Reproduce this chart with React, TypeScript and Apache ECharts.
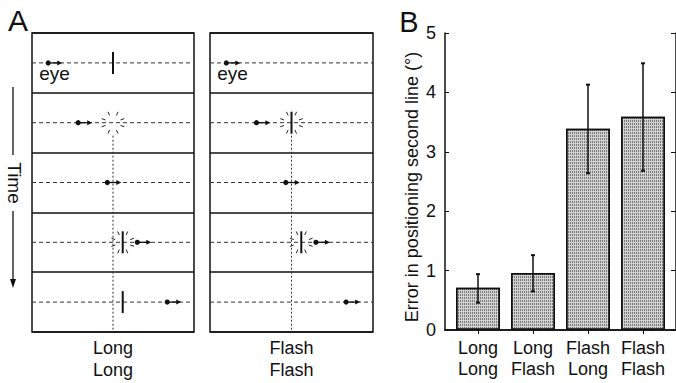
import React, { useEffect, useRef } from "react";
import * as echarts from "echarts";

// ---------- Panel B data ----------
const barCategories = ["Long\nLong", "Long\nFlash", "Flash\nLong", "Flash\nFlash"];
const barPositions = [1, 2, 3, 4];
const barMeans = [0.71, 0.96, 3.39, 3.59];
const errLow = [0.46, 0.65, 2.64, 2.68];
const errHigh = [0.94, 1.26, 4.13, 4.49];
const yAxisName = "Error in positioning second line (°)";

// ---------- Panel A data (positions in % of box width, rows top to bottom) ----------
const rows = [0, 1, 2, 3, 4];
const eyeX = [10, 28.5, 46.5, 65, 83.5];
const flashedX = 50;
const longLongStimX = [50, 50, -1, 56, 56];
const longLongLine = [1, 0, 0, 1, 1];
const longLongFlash = [0, 1, 0, 1, 0];
const flashFlashStimX = [-1, 50, -1, 56, -1];
const flashFlashLine = [0, 1, 0, 1, 0];
const flashFlashFlash = [0, 1, 0, 1, 0];
const boxLabels = ["Long\nLong", "Flash\nFlash"];

const FONT = "'Liberation Sans', Arial, Helvetica, sans-serif";
const INK = "#111";

const rayAngles = [20, 65, 115, 160, 200, 245, 295, 340];

function makeDiagramRender() {
  return (params: any, api: any) => {
    const i = api.value(0);
    const ex = api.value(1);
    const sx = api.value(2);
    const lineOn = api.value(3);
    const flashOn = api.value(4);
    const yMid = i + 0.5;
    const left = api.coord([0, yMid]);
    const right = api.coord([100, yMid]);
    const cy = left[1];
    const children: any[] = [];
    children.push({
      type: "line",
      shape: { x1: left[0], y1: cy, x2: right[0], y2: cy },
      style: { stroke: "#333", lineWidth: 1, lineDash: [4, 3] },
    });
    if (i === 1) {
      const top = api.coord([flashedX, yMid]);
      const bot = api.coord([flashedX, 5]);
      children.push({
        type: "line",
        shape: { x1: top[0], y1: top[1] + 13, x2: bot[0], y2: bot[1] },
        style: { stroke: "#333", lineWidth: 1, lineDash: [2, 2] },
      });
    }
    if (sx >= 0) {
      const s = api.coord([sx, yMid]);
      if (flashOn) {
        rayAngles.forEach((a) => {
          const r = (a * Math.PI) / 180;
          const r1 = 8, r2 = 12;
          children.push({
            type: "line",
            shape: {
              x1: s[0] + r1 * Math.cos(r),
              y1: s[1] - r1 * Math.sin(r),
              x2: s[0] + r2 * Math.cos(r),
              y2: s[1] - r2 * Math.sin(r),
            },
            style: { stroke: "#222", lineWidth: 1 },
          });
        });
      }
      if (lineOn) {
        children.push({
          type: "line",
          shape: { x1: s[0], y1: s[1] - 11, x2: s[0], y2: s[1] + 11 },
          style: { stroke: INK, lineWidth: 2 },
        });
      }
    }
    const e = api.coord([ex, yMid]);
    children.push({
      type: "line",
      shape: { x1: e[0], y1: e[1], x2: e[0] + 11, y2: e[1] },
      style: { stroke: INK, lineWidth: 1.3 },
    });
    children.push({
      type: "polygon",
      shape: { points: [[e[0] + 14, e[1]], [e[0] + 9, e[1] - 2.5], [e[0] + 9, e[1] + 2.5]] },
      style: { fill: INK },
    });
    children.push({
      type: "circle",
      shape: { cx: e[0], cy: e[1], r: 2.6 },
      style: { fill: INK },
    });
    if (i === 0) {
      children.push({
        type: "text",
        x: e[0] - 9,
        y: e[1] + 11,
        style: {
          text: "eye",
          font: `19px ${FONT}`,
          fill: INK,
          textAlign: "left",
          textVerticalAlign: "middle",
        },
      });
    }
    return { type: "group", children };
  };
}

function diagramData(stimX: number[], line: number[], flash: number[]) {
  return rows.map((r) => [r, eyeX[r], stimX[r], line[r], flash[r]]);
}

export default function App() {
  const ref = useRef<HTMLDivElement>(null);
  useEffect(() => {
    if (!ref.current) return;
    const chart = echarts.init(ref.current, undefined, { renderer: "svg" });

    const diagramXAxis = (gi: number) => ({
      type: "value", gridIndex: gi, min: 0, max: 100, show: false,
    });
    const diagramYAxis = (gi: number) => ({
      type: "value", gridIndex: gi, min: 0, max: 5, interval: 1, inverse: true,
      axisLine: { show: false }, axisTick: { show: false }, axisLabel: { show: false },
      splitLine: { show: true, lineStyle: { color: INK, width: 1.5 } },
    });

    const option: any = {
      animation: false,
      backgroundColor: "#fff",
      grid: [
        { left: 32, top: 33, width: 162, height: 299, show: true, borderColor: INK, borderWidth: 1.5 },
        { left: 210, top: 33, width: 163, height: 299, show: true, borderColor: INK, borderWidth: 1.5 },
        { left: 445, top: 33, right: -2, bottom: 53 },
      ],
      xAxis: [
        diagramXAxis(0),
        diagramXAxis(1),
        {
          type: "value", gridIndex: 2, min: 0.4, max: 4.6, position: "bottom",
          axisLine: { show: true, lineStyle: { color: INK, width: 1.5 } },
          axisTick: { show: false },
          splitLine: { show: false },
          axisLabel: {
            customValues: barPositions,
            formatter: (v: number) => barCategories[Math.round(v) - 1] || "",
            fontSize: 18, lineHeight: 21, margin: 7, color: INK, fontFamily: FONT,
          },
        },
        {
          type: "value", gridIndex: 2, min: 0.4, max: 4.6, position: "top",
          axisLine: { show: true, lineStyle: { color: INK, width: 1.5 } },
          axisTick: { show: true, inside: true, length: 4, customValues: barPositions, lineStyle: { color: INK } },
          axisLabel: { show: false },
          splitLine: { show: false },
        },
      ],
      yAxis: [
        diagramYAxis(0),
        diagramYAxis(1),
        {
          type: "value", gridIndex: 2, min: 0, max: 5, interval: 1,
          axisLine: { show: true, lineStyle: { color: INK, width: 1.5 } },
          axisTick: { show: true, inside: true, length: 4, lineStyle: { color: INK } },
          axisLabel: { fontSize: 18, margin: 9, color: INK, fontFamily: FONT },
          splitLine: { show: false },
        },
        {
          type: "value", gridIndex: 2, min: 0, max: 5, interval: 1, position: "right",
          axisLine: { show: true, lineStyle: { color: INK, width: 1.5 } },
          axisTick: { show: true, inside: true, length: 5, lineStyle: { color: INK } },
          axisLabel: { show: false },
          splitLine: { show: false },
        },
      ],
      series: [
        {
          type: "custom", xAxisIndex: 0, yAxisIndex: 0, silent: true,
          renderItem: makeDiagramRender(),
          data: diagramData(longLongStimX, longLongLine, longLongFlash),
        },
        {
          type: "custom", xAxisIndex: 1, yAxisIndex: 1, silent: true,
          renderItem: makeDiagramRender(),
          data: diagramData(flashFlashStimX, flashFlashLine, flashFlashFlash),
        },
        {
          type: "bar", xAxisIndex: 2, yAxisIndex: 2, barWidth: 44,
          data: barPositions.map((x, i) => [x, barMeans[i]]),
          itemStyle: {
            color: "#d2d2d2", borderColor: INK, borderWidth: 1.5,
            decal: {
              symbol: "rect", symbolSize: 1, dashArrayX: [1, 1], dashArrayY: [2, 1],
              color: "rgba(0,0,0,0.42)", rotation: 0,
            },
          },
        },
        {
          type: "custom", xAxisIndex: 2, yAxisIndex: 2, silent: true, z: 5,
          data: barPositions.map((x, i) => [x, errLow[i], errHigh[i]]),
          renderItem: (params: any, api: any) => {
            const lo = api.coord([api.value(0), api.value(1)]);
            const hi = api.coord([api.value(0), api.value(2)]);
            const st = { stroke: INK, lineWidth: 1.5 };
            return {
              type: "group",
              children: [
                { type: "line", shape: { x1: lo[0], y1: lo[1], x2: hi[0], y2: hi[1] }, style: st },
                { type: "line", shape: { x1: lo[0] - 2, y1: lo[1], x2: lo[0] + 2, y2: lo[1] }, style: { ...st, lineWidth: 2 } },
                { type: "line", shape: { x1: hi[0] - 2, y1: hi[1], x2: hi[0] + 2, y2: hi[1] }, style: { ...st, lineWidth: 2 } },
              ],
            };
          },
        },
      ],
      graphic: [
        { type: "text", x: 18, y: 20, style: { text: "A", font: `30px ${FONT}`, fill: INK, textAlign: "center", textVerticalAlign: "middle" } },
        { type: "text", x: 409, y: 22, style: { text: "B", font: `29px ${FONT}`, fill: INK, textAlign: "center", textVerticalAlign: "middle" } },
        { type: "line", shape: { x1: 13, y1: 87, x2: 13, y2: 155 }, style: { stroke: INK, lineWidth: 1.3 } },
        { type: "text", x: 14, y: 183, rotation: -Math.PI / 2, style: { text: "Time", font: `19px ${FONT}`, fill: INK, textAlign: "center", textVerticalAlign: "middle" } },
        { type: "line", shape: { x1: 13, y1: 211, x2: 13, y2: 282 }, style: { stroke: INK, lineWidth: 1.3 } },
        { type: "polygon", shape: { points: [[10, 279], [16, 279], [13, 288]] }, style: { fill: INK } },
        { type: "text", x: 113, y: 359, style: { text: boxLabels[0], font: `18px ${FONT}`, lineHeight: 22, fill: INK, textAlign: "center", textVerticalAlign: "middle" } },
        { type: "text", x: 291.5, y: 359, style: { text: boxLabels[1], font: `18px ${FONT}`, lineHeight: 22, fill: INK, textAlign: "center", textVerticalAlign: "middle" } },
        { type: "text", x: 412, y: 187, rotation: Math.PI / 2, style: { text: yAxisName, font: `18px ${FONT}`, fill: INK, textAlign: "center", textVerticalAlign: "middle" } },
      ],
    };
    chart.setOption(option);
    return () => chart.dispose();
  }, []);
  return <div ref={ref} style={{ width: 676, height: 383, position: "absolute", left: 0, top: 0 }} />;
}
